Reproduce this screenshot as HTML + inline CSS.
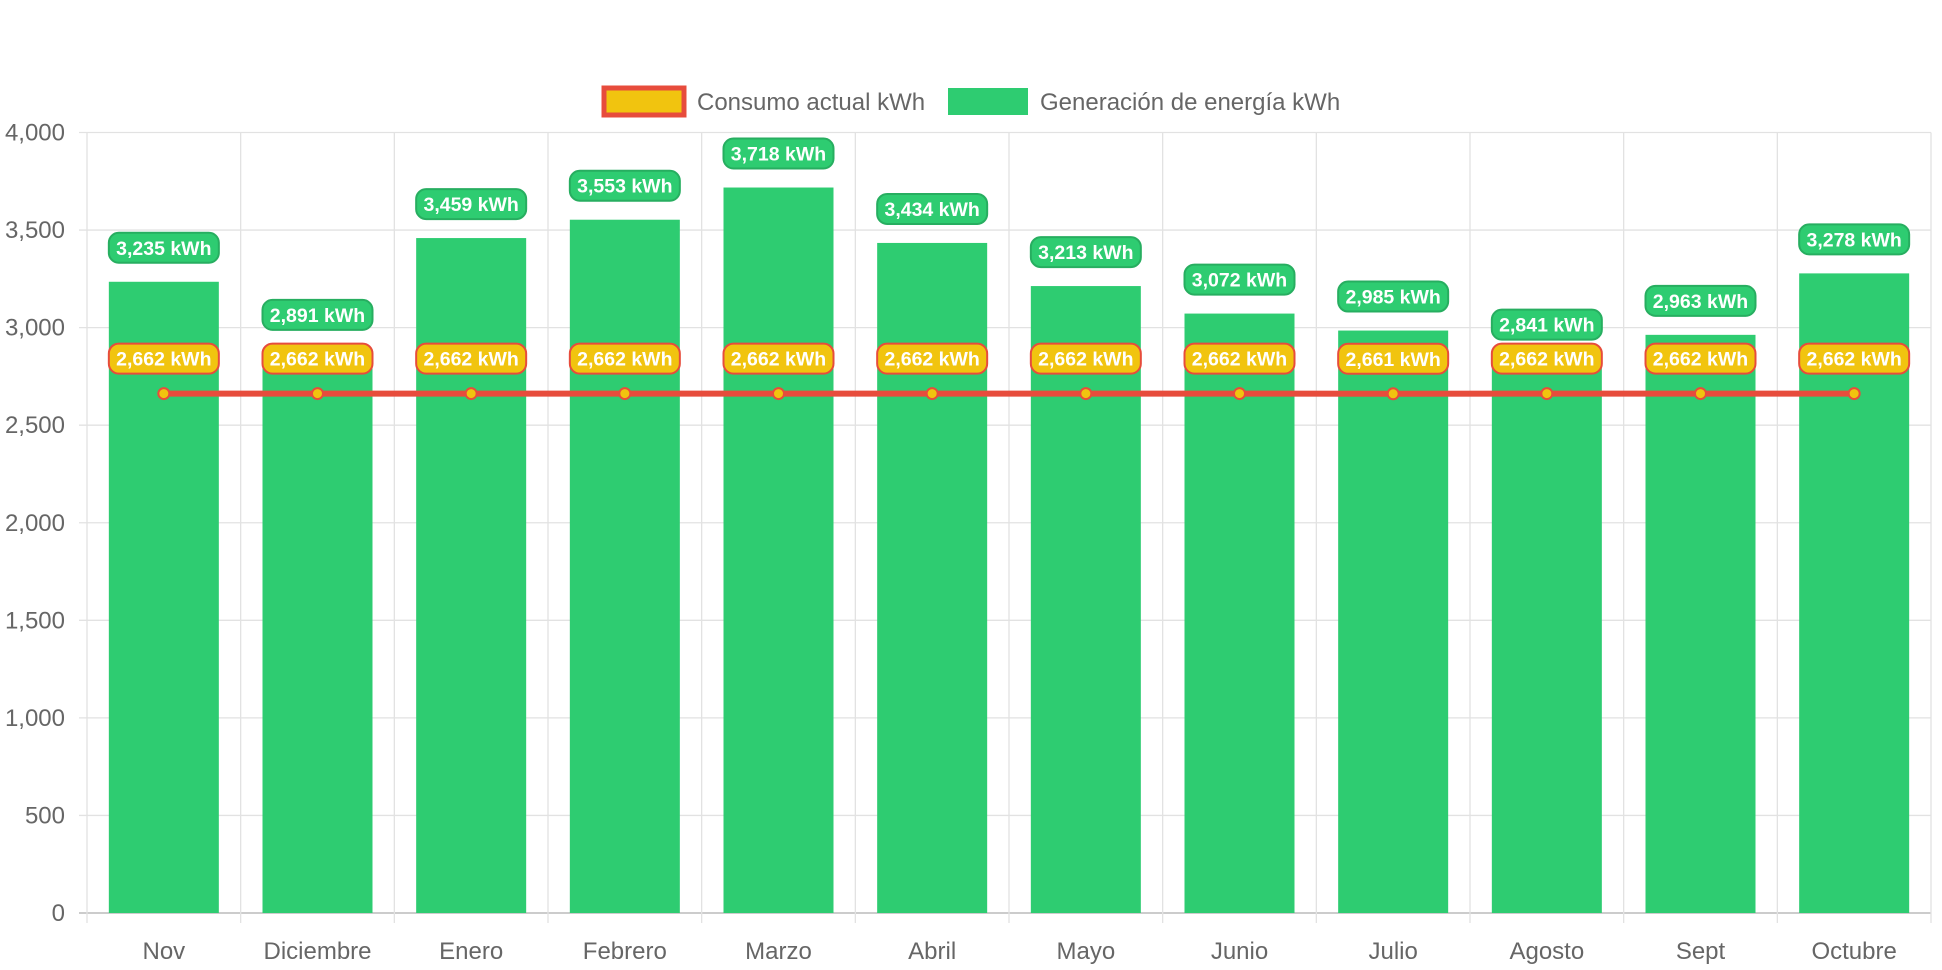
<!DOCTYPE html>
<html><head><meta charset="utf-8"><style>
html,body{margin:0;padding:0;background:#fff;width:1942px;height:970px;overflow:hidden}
svg text{font-family:"Liberation Sans",sans-serif}
</style></head><body>
<svg id="chart" width="1942" height="970" viewBox="0 0 1942 970" xmlns="http://www.w3.org/2000/svg">
<g id="legend">
<g>
<rect x="604" y="88" width="80" height="27" fill="#f1c40f" stroke="#e74c3c" stroke-width="5"/>
<text x="697" y="110" font-size="24" fill="#666">Consumo actual kWh</text></g>
<g>
<rect x="948" y="88" width="80" height="27" fill="#2ecc71"/>
<text x="1040" y="110" font-size="24" fill="#666">Generación de energía kWh</text></g>
</g>
<g id="grid"></g>
<g id="bars"></g>
<g id="line"></g>
<g id="labels"></g>
</svg>
<script>
const categories=["Nov","Diciembre","Enero","Febrero","Marzo","Abril","Mayo","Junio","Julio","Agosto","Sept","Octubre"];
const generacion=[3235,2891,3459,3553,3718,3434,3213,3072,2985,2841,2963,3278];
const consumo=[2662,2662,2662,2662,2662,2662,2662,2662,2661,2662,2662,2662];
const yTicks=[0,500,1000,1500,2000,2500,3000,3500,4000];
const L=87,R=1931,T=132.5,B=913,YMAX=4000;
const NS="http://www.w3.org/2000/svg";
const cw=(R-L)/categories.length;
function y(v){return B-(v/YMAX)*(B-T);}
function xc(i){return L+cw*(i+0.5);}
function mk(tag,attrs,parent,txt){const e=document.createElementNS(NS,tag);for(const k in attrs)e.setAttribute(k,attrs[k]);if(txt!==undefined)e.textContent=txt;parent.appendChild(e);return e;}
const fmt=v=>v.toLocaleString('en-US');
const grid=document.getElementById('grid');
yTicks.forEach(t=>{
  const ln=mk('line',{x1:L-8,x2:R,y1:y(t),y2:y(t),stroke:t===0?'#ccc':'#e2e2e2','stroke-width':t===0?2:1.3},grid);
  
  
  const tx=mk('text',{x:L-22,y:y(t)+8,'text-anchor':'end','font-size':24,fill:'#666'},grid,fmt(t));
  
  
});
for(let i=0;i<=categories.length;i++){
  const x=L+cw*i;
  const ln=mk('line',{x1:x,x2:x,y1:T,y2:B+10,stroke:'#e2e2e2','stroke-width':1.3},grid);
  
  
}
categories.forEach((c,i)=>{
  const tx=mk('text',{x:xc(i),y:959,'text-anchor':'middle','font-size':24,fill:'#666'},grid,c);
  
  
});
const bars=document.getElementById('bars');
const bw=110;
generacion.forEach((v,i)=>{
  const r=mk('rect',{x:xc(i)-bw/2,y:y(v),width:bw,height:B-y(v),fill:'#2ecc71'},bars);
  
  
});
const lg=document.getElementById('line');
const pts=consumo.map((v,i)=>xc(i)+','+y(v)).join(' ');
const pl=mk('polyline',{points:pts,fill:'none',stroke:'#e74c3c','stroke-width':6},lg);


consumo.forEach((v,i)=>{
  const c=mk('circle',{cx:xc(i),cy:y(v),r:5.5,fill:'#f1c40f',stroke:'#e74c3c','stroke-width':2},lg);
  
  
});
const lab=document.getElementById('labels');
function label(name){
  const g=mk('g',{},lab);
  
  
  return g;
}
generacion.forEach((v,i)=>{
  const cy=y(v)-34;
  const g=label('generacion-label');
  mk('rect',{x:xc(i)-55,y:cy-15,width:110,height:30,rx:10,fill:'#2ecc71',stroke:'#27ae60','stroke-width':2},g);
  mk('text',{x:xc(i),y:cy+7,'text-anchor':'middle','font-size':19.5,'font-weight':'bold',fill:'#fff'},g,fmt(v)+' kWh');
});
consumo.forEach((v,i)=>{
  const cy=y(v)-35;
  const g=label('consumo-label');
  mk('rect',{x:xc(i)-55,y:cy-15,width:110,height:30,rx:10,fill:'#f1c40f',stroke:'#e74c3c','stroke-width':2},g);
  mk('text',{x:xc(i),y:cy+7,'text-anchor':'middle','font-size':19.5,'font-weight':'bold',fill:'#fff'},g,fmt(v)+' kWh');
});
</script>
</body></html>
